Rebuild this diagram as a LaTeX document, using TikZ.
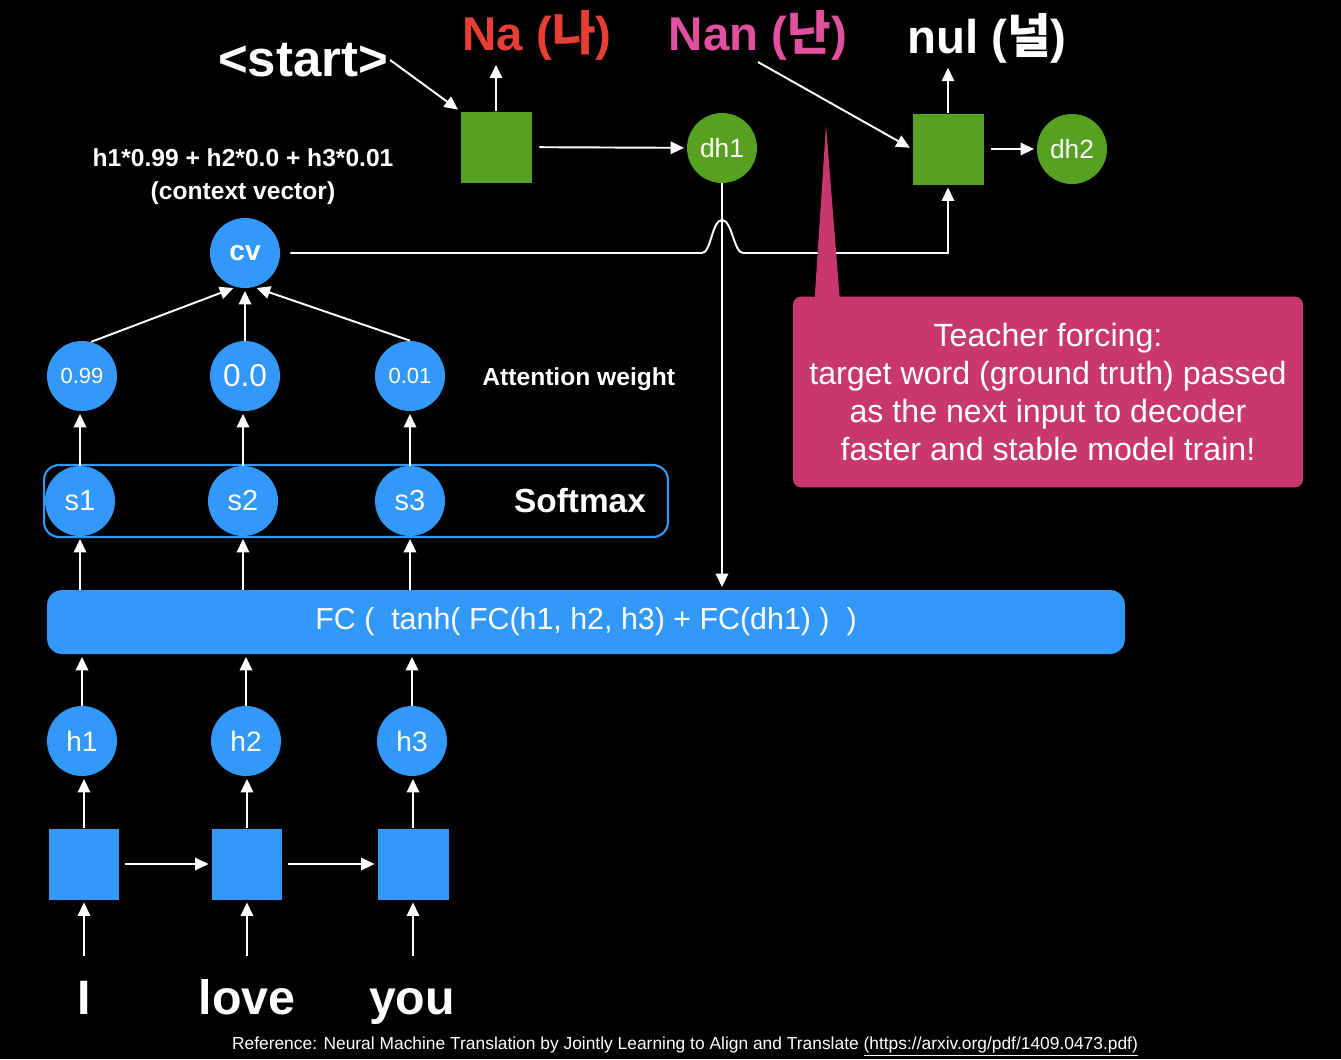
\documentclass[tikz,border=0pt]{standalone}
\usepackage{fontspec}
\setmainfont{Liberation Sans}
\newfontfamily\kr{Noto Sans CJK KR}
\usetikzlibrary{arrows.meta,positioning,calc}
\definecolor{nodeblue}{RGB}{50,152,250}
\definecolor{decgreen}{RGB}{86,162,32}
\definecolor{notepink}{RGB}{200,56,110}
\definecolor{nared}{RGB}{232,62,52}
\definecolor{nanpink}{RGB}{226,80,160}
\newcommand{\fsz}[1]{\fontsize{#1}{#1}\selectfont}

\begin{document}
\begin{tikzpicture}[
  x=0.02cm, y=-0.02cm,
  arr/.style={-{Triangle[length=2.7mm,width=2.5mm]}, white, line width=1.1pt,
              shorten >=1.5pt},
  ln/.style={white, line width=1.1pt},
  enc/.style={fill=nodeblue, minimum size=1.42cm, inner sep=0pt},
  dec/.style={fill=decgreen, minimum size=1.42cm, inner sep=0pt},
  bc/.style={circle, fill=nodeblue, minimum size=1.4cm, inner sep=0pt, text=white},
  gc/.style={circle, fill=decgreen, minimum size=1.4cm, inner sep=0pt, text=white},
  lbl/.style={text=white, inner sep=1pt},
  word/.style={text=white, inner sep=0pt, font=\fsz{27.5}\bfseries,
               text height=20pt, text depth=5.5pt},
  note/.style={fill=notepink, rounded corners=0.16cm, minimum width=10.2cm,
               minimum height=3.82cm, align=center, text=white}
]
\fill[black] (0,0) rectangle (1341,1059);
\useasboundingbox (0,0) rectangle (1341,1059);
% ---------------- decoder ----------------
\node[dec] (dec1) at (496,147) {};
\node[dec] (dec2) at (948,149) {};
\node[gc, font=\fsz{15}] (dh1) at (722,148) {dh1};
\node[gc, font=\fsz{15}] (dh2) at (1072,149) {dh2};
\node[lbl, font=\fsz{29}\bfseries] (start) at (303,60) {<start>};
\node[lbl, text=nared, font=\fsz{27}\bfseries] (na) at (537,35) {Na ({\kr 나})};
\node[lbl, text=nanpink, font=\fsz{27}\bfseries] (nan) at (758,35) {Nan ({\kr 난})};
\node[lbl, font=\fsz{27}\bfseries] (nul) at (987,38) {nul ({\kr 널})};
% ---------------- attention ----------------
\node[bc, font=\fsz{16}\bfseries] (cv) at (245,253) {cv};
\node[lbl, font=\fontsize{14}{18.7}\selectfont\bfseries, align=center] (ctx)
  at (243,177) {h1*0.99 + h2*0.0 + h3*0.01\\(context vector)};
\node[bc, font=\fsz{12.5}] (w1) at (82,376) {0.99};
\node[bc, font=\fsz{18}] (w2) at (245,376) {0.0};
\node[bc, font=\fsz{12.5}] (w3) at (410,376) {0.01};
\node[lbl, font=\fsz{14}\bfseries, right=0.7cm of w3, yshift=-2pt] (attn) {Attention weight};
\node[draw=nodeblue, line width=1.2pt, rounded corners=0.3cm,
      minimum width=12.48cm, minimum height=1.44cm] (smax) at (356,501) {};
\node[bc, font=\fsz{16.5}] (s1) at (80,501) {s1};
\node[bc, font=\fsz{16.5}] (s2) at (243,501) {s2};
\node[bc, font=\fsz{16.5}] (s3) at (410,501) {s3};
\node[lbl, font=\fsz{19}\bfseries] (smtxt) at (580,501) {Softmax};
\node[fill=nodeblue, rounded corners=0.3cm, minimum width=21.56cm,
      minimum height=1.28cm, text=white, font=\fsz{17.3}] (fc) at (586,622)
  {FC (\ \ tanh( FC(h1, h2, h3) + FC(dh1) )\ \ )};
% ---------------- encoder ----------------
\node[bc, font=\fsz{16}] (h1) at (82,741) {h1};
\node[bc, font=\fsz{16}] (h2) at (246,741) {h2};
\node[bc, font=\fsz{16}] (h3) at (412,741) {h3};
\node[enc] (enc1) at (84,864) {};
\node[enc] (enc2) at (247,864) {};
\node[enc] (enc3) at (413,864) {};
\node[word, anchor=base] (x1) at (84,1014) {I};
\node[word, anchor=base] (x2) at (247,1014) {love};
\node[word, anchor=base] (x3) at (412,1014) {you};
% ---------------- edges ----------------
\draw[arr] (start.east) -- (dec1.north west);
\draw[arr] (dec1.north) -- (dec1.north |- na.south);
\draw[arr, shorten <=1.5mm] (dec1) -- (dh1);
\draw[arr] (nan.south) -- (dec2.west);
\draw[arr] (dec2.north) -- (dec2.north |- nul.south);
\draw[arr, shorten <=1.5mm] (dec2) -- (dh2);
\coordinate (hopL) at ($(dh1 |- cv)+(-20,0)$);
\coordinate (hopT) at ($(dh1 |- cv)+(0,-33)$);
\coordinate (hopR) at ($(dh1 |- cv)+(21,0)$);
\draw[arr, shorten <=2mm] (cv.east) -- (hopL)
  .. controls ($(hopL)+(9,0)$) and ($(hopT)+(-10,0)$) .. (hopT)
  .. controls ($(hopT)+(10,0)$) and ($(hopR)+(-9,0)$) .. (hopR)
  -| (dec2.south);
\draw[arr] (dh1.south) -- (dh1.south |- fc.north);
\draw[arr] (w1.75) -- (cv.255);
\draw[arr] (w2) -- (cv);
\draw[arr] (w3.north) -- (cv.285);
\foreach \i in {1,2,3}{
  \draw[arr] (s\i.north) -- (s\i.north |- w\i.south);
  \draw[arr] (fc.north -| s\i) -- (s\i.south);
  \draw[arr] (h\i.north) -- (h\i.north |- fc.south);
  \draw[arr] (enc\i.north) -- (enc\i.north |- h\i.south);
  \draw[arr, shorten <=4.6mm] (enc\i.south |- x\i.north) -- (enc\i.south);
}
\draw[arr, shorten <=1mm] (enc1) -- (enc2);
\draw[arr, shorten <=1mm] (enc2) -- (enc3);
% ---------------- teacher forcing note ----------------
\node[note, font=\fontsize{18.3}{21.5}\selectfont] (note) at (1048,392)
  {Teacher forcing:\\target word (ground truth) passed\\as the next input to decoder\\faster and stable model train!};
\coordinate (tip) at (826,125);
\fill[notepink] ($(note.north west)+(22,2)$) -- (tip) -- ($(note.north west)+(47,2)$) -- cycle;
% ---------------- reference ----------------
\node[lbl, font=\fsz{9.9}] (ref) at (685,1047)
  {Reference: Neural Machine Translation by Jointly Learning to Align and Translate \underline{(https://arxiv.org/pdf/1409.0473.pdf)}};
\end{tikzpicture}
\end{document}
